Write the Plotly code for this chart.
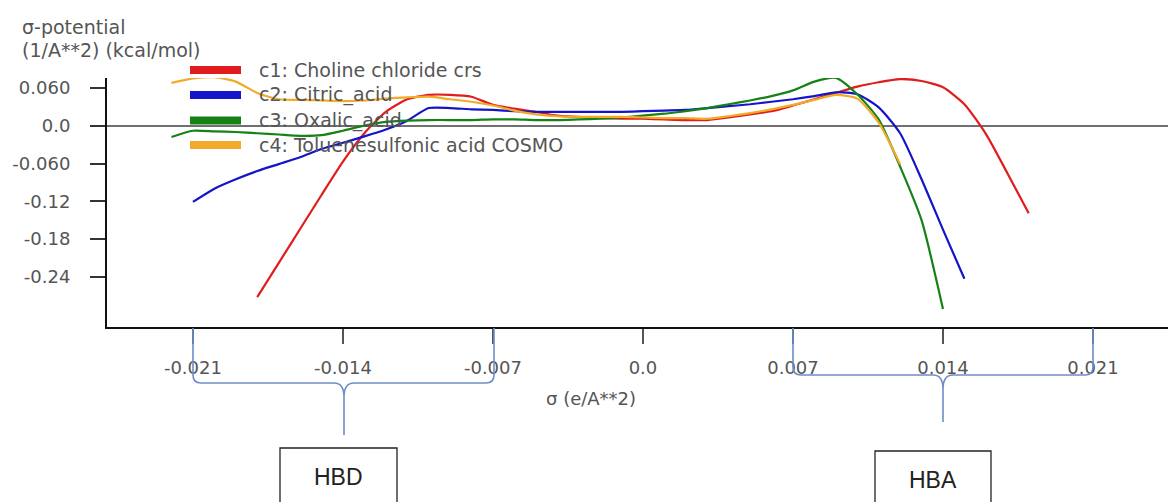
import plotly.graph_objects as go

# ---------------- data ----------------
sigma_c1 = [round(-0.018 + 0.001 * i, 3) for i in range(37)]
c1_choline = [-0.272, -0.218, -0.164, -0.110, -0.057, -0.012, 0.022, 0.042, 0.049, 0.049,
              0.046, 0.033, 0.027, 0.022, 0.016, 0.014, 0.012, 0.011, 0.011, 0.010,
              0.009, 0.009, 0.013, 0.018, 0.023, 0.032, 0.042, 0.052, 0.062, 0.069,
              0.074, 0.071, 0.061, 0.034, -0.013, -0.075, -0.139]

sigma_c2 = [round(-0.021 + 0.001 * i, 3) for i in range(37)]
c2_citric = [-0.121, -0.100, -0.085, -0.072, -0.061, -0.050, -0.037, -0.027, -0.017, -0.006,
             0.008, 0.028, 0.028, 0.026, 0.025, 0.023, 0.022, 0.022, 0.022, 0.022,
             0.022, 0.023, 0.024, 0.025, 0.028, 0.031, 0.034, 0.038, 0.042, 0.047,
             0.053, 0.050, 0.029, -0.012, -0.085, -0.165, -0.243]

sigma_c3 = [round(-0.022 + 0.001 * i, 3) for i in range(37)]
c3_oxalic = [-0.018, -0.008, -0.009, -0.010, -0.012, -0.014, -0.016, -0.015, -0.008, 0.000,
             0.006, 0.008, 0.009, 0.009, 0.009, 0.010, 0.010, 0.009, 0.009, 0.010,
             0.011, 0.013, 0.016, 0.019, 0.023, 0.028, 0.034, 0.040, 0.047, 0.056,
             0.070, 0.076, 0.050, 0.010, -0.065, -0.150, -0.291]

sigma_c4 = [round(-0.022 + 0.001 * i, 3) for i in range(35)]
c4_toluene = [0.068, 0.075, 0.077, 0.070, 0.052, 0.042, 0.041, 0.040, 0.039, 0.040,
              0.043, 0.045, 0.046, 0.042, 0.038, 0.032, 0.024, 0.018, 0.015, 0.014,
              0.014, 0.014, 0.013, 0.012, 0.012, 0.011, 0.015, 0.020, 0.026, 0.033,
              0.041, 0.049, 0.043, 0.005, -0.061]

series_names = ["c1: Choline chloride crs", "c2: Citric_acid", "c3: Oxalic_acid",
                "c4: Toluenesulfonic acid COSMO"]
series_colors = ["#e01c1c", "#1414c8", "#168216", "#f2aa2a"]

x_tickvals = [-0.021, -0.014, -0.007, 0.0, 0.007, 0.014, 0.021]
x_ticktext = ["-0.021", "-0.014", "-0.007", "0.0", "0.007", "0.014", "0.021"]
y_tickvals = [0.06, 0.0, -0.06, -0.12, -0.18, -0.24]
y_ticktext = ["0.060", "0.0", "-0.060", "-0.12", "-0.18", "-0.24"]

# ---------------- layout geometry ----------------
W, H = 1168, 502
L, R, T, B = 107, 1168, 78, 327


def px(x):
    return (x - L) / (R - L)


def py(y):
    return (B - y) / (B - T)


FONT = "DejaVu Sans"
GRAY = "#555555"

fig = go.Figure()
for xs, ys, name, col in zip([sigma_c1, sigma_c2, sigma_c3, sigma_c4],
                             [c1_choline, c2_citric, c3_oxalic, c4_toluene],
                             series_names, series_colors):
    fig.add_trace(go.Scatter(x=xs, y=ys, mode="lines", name=name,
                             line=dict(color=col, width=2.2, shape="spline", smoothing=0.6),
                             showlegend=False))

shapes = []
annotations = []

# manual legend
leg_y = [70, 95, 120.5, 145]
for name, col, yy in zip(series_names, series_colors, leg_y):
    shapes.append(dict(type="rect", xref="paper", yref="paper",
                       x0=px(190), x1=px(241), y0=py(yy + 4), y1=py(yy - 4),
                       fillcolor=col, line=dict(width=0), layer="above"))
    annotations.append(dict(xref="paper", yref="paper", x=px(257), y=py(yy),
                            xanchor="left", yanchor="middle", text=name, showarrow=False,
                            font=dict(family=FONT, size=19, color=GRAY)))

# axis titles
annotations.append(dict(xref="paper", yref="paper", x=px(20), y=py(27), xanchor="left",
                        yanchor="middle", text="σ-potential", showarrow=False,
                        font=dict(family=FONT, size=19, color=GRAY)))
annotations.append(dict(xref="paper", yref="paper", x=px(20), y=py(50), xanchor="left",
                        yanchor="middle", text="(1/A**2) (kcal/mol)", showarrow=False,
                        font=dict(family=FONT, size=19, color=GRAY)))
annotations.append(dict(xref="paper", yref="paper", x=px(591), y=py(398), xanchor="center",
                        yanchor="middle", text="σ (e/A**2)", showarrow=False,
                        font=dict(family=FONT, size=18, color=GRAY)))


# braces
def brace(xl, xr, xc, yh, ytip, r=8):
    top = B + 1
    return (f"M {px(xl)},{py(top)} L {px(xl)},{py(yh - r)} "
            f"Q {px(xl)},{py(yh)} {px(xl + r)},{py(yh)} "
            f"L {px(xc - 10)},{py(yh)} Q {px(xc)},{py(yh)} {px(xc)},{py(yh + 14)} "
            f"L {px(xc)},{py(ytip)} M {px(xc)},{py(yh + 14)} "
            f"Q {px(xc)},{py(yh)} {px(xc + 10)},{py(yh)} "
            f"L {px(xr - r)},{py(yh)} Q {px(xr)},{py(yh)} {px(xr)},{py(yh - r)} "
            f"L {px(xr)},{py(top)}")


BRACE_COL = "#6f8cc8"
shapes.append(dict(type="path", xref="paper", yref="paper",
                   path=brace(193, 494, 344, 383, 435), line=dict(color=BRACE_COL, width=1.6)))
shapes.append(dict(type="path", xref="paper", yref="paper",
                   path=brace(793, 1093, 943, 375, 422), line=dict(color=BRACE_COL, width=1.6)))

# HBD / HBA boxes
for x0, x1, y0, label in [(280, 397, 448, "HBD"), (875, 991, 451, "HBA")]:
    shapes.append(dict(type="rect", xref="paper", yref="paper",
                       x0=px(x0), x1=px(x1), y0=py(y0), y1=py(512),
                       line=dict(color="#222222", width=1.3), fillcolor="rgba(0,0,0,0)"))
    annotations.append(dict(xref="paper", yref="paper", x=px((x0 + x1) / 2), y=py(y0 + 29),
                            xanchor="center", yanchor="middle", text=label, showarrow=False,
                            font=dict(family="Liberation Sans", size=23, color="#222222")))

fig.update_layout(
    width=W, height=H,
    margin=dict(l=L, r=W - R, t=T, b=H - B, pad=0),
    paper_bgcolor="white", plot_bgcolor="white",
    showlegend=False,
    shapes=shapes, annotations=annotations,
    xaxis=dict(range=[-0.02501, 0.0245], tickvals=x_tickvals, ticktext=x_ticktext,
               showgrid=False, zeroline=False, showline=True, linecolor="#111111", linewidth=2,
               ticks="outside", ticklen=15, tickwidth=1.5, tickcolor="#555555",
               ticklabelstandoff=8,
               tickfont=dict(family=FONT, size=18, color=GRAY)),
    yaxis=dict(range=[-0.3195, 0.0757], tickvals=y_tickvals, ticktext=y_ticktext,
               showgrid=False, zeroline=True, zerolinecolor="#707070", zerolinewidth=1.6,
               showline=True, linecolor="#111111", linewidth=2,
               ticks="outside", ticklen=15, tickwidth=1.5, tickcolor="#333333",
               ticklabelstandoff=16,
               tickfont=dict(family=FONT, size=18, color=GRAY)),
)

fig.write_html("out.html")
